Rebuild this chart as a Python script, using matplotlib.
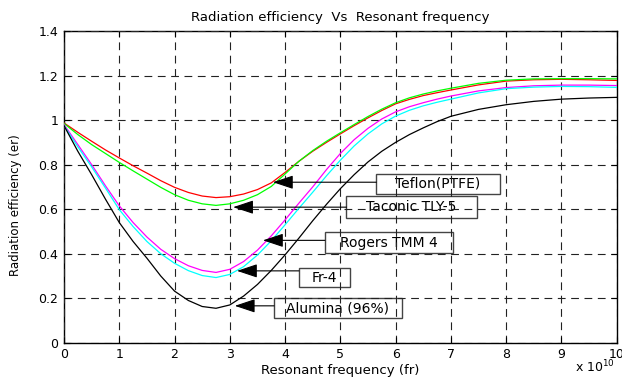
import matplotlib.pyplot as plt
from matplotlib.patches import Rectangle
from matplotlib.ticker import FormatStrFormatter

# resonant frequency, in units of 1e10 Hz
freq = [0, 0.25, 0.5, 0.75, 1, 1.25, 1.5, 1.75, 2, 2.25, 2.5, 2.75, 3, 3.25, 3.5,
        3.75, 4, 4.25, 4.5, 4.75, 5, 5.25, 5.5, 5.75, 6, 6.25, 6.5, 6.75, 7,
        7.5, 8, 8.5, 9, 9.5, 10]

# radiation efficiency per substrate
teflon = [0.987, 0.945, 0.905, 0.866, 0.830, 0.795, 0.762, 0.728, 0.698, 0.675, 0.659,
          0.652, 0.656, 0.668, 0.688, 0.718, 0.765, 0.815, 0.860, 0.900, 0.938, 0.975,
          1.010, 1.043, 1.073, 1.093, 1.110, 1.123, 1.135,
          1.158, 1.175, 1.181, 1.183, 1.181, 1.178]
taconic = [0.985, 0.935, 0.890, 0.850, 0.810, 0.772, 0.735, 0.698, 0.665, 0.640, 0.624,
           0.617, 0.624, 0.640, 0.665, 0.702, 0.758, 0.815, 0.863, 0.905, 0.943, 0.980,
           1.016, 1.049, 1.078, 1.100, 1.117, 1.131, 1.143,
           1.165, 1.179, 1.185, 1.186, 1.186, 1.185]
rogers = [0.980, 0.890, 0.800, 0.705, 0.615, 0.540, 0.475, 0.420, 0.378, 0.346, 0.325,
          0.316, 0.330, 0.365, 0.416, 0.480, 0.552, 0.627, 0.700, 0.778, 0.850, 0.912,
          0.963, 1.005, 1.037, 1.060, 1.078, 1.094, 1.108,
          1.131, 1.146, 1.154, 1.157, 1.157, 1.155]
fr4 = [0.975, 0.880, 0.790, 0.695, 0.598, 0.522, 0.455, 0.400, 0.357, 0.324, 0.302,
       0.293, 0.307, 0.342, 0.394, 0.458, 0.530, 0.604, 0.676, 0.750, 0.820, 0.884,
       0.938, 0.983, 1.018, 1.044, 1.064, 1.080, 1.094,
       1.122, 1.141, 1.148, 1.151, 1.150, 1.147]
alumina = [0.975, 0.860, 0.755, 0.645, 0.540, 0.455, 0.380, 0.300, 0.232, 0.190, 0.163,
           0.155, 0.170, 0.210, 0.262, 0.325, 0.395, 0.470, 0.548, 0.622, 0.692, 0.755,
           0.812, 0.860, 0.900, 0.935, 0.965, 0.993, 1.017,
           1.048, 1.069, 1.084, 1.094, 1.099, 1.102]

curves = [teflon, taconic, rogers, fr4, alumina]
colors = ['#ff0000', '#00ff00', '#ff00ff', '#00ffff', '#000000']

# annotation labels, arrow tips and boxes (x0, x1, y0, y1)
labels = ['Teflon(PTFE)', 'Taconic TLY-5', 'Rogers TMM 4', 'Fr-4', 'Alumina (96%)']
tips = [(3.78, 0.721), (3.06, 0.609), (3.60, 0.460), (3.13, 0.323), (3.09, 0.166)]
boxes = [(5.65, 7.88, 0.670, 0.760), (5.11, 7.47, 0.559, 0.658),
         (4.72, 7.03, 0.402, 0.496), (4.25, 5.17, 0.250, 0.335),
         (3.80, 6.11, 0.111, 0.200)]

fig = plt.figure(figsize=(6.22, 3.77), dpi=100)
ax = fig.add_axes([0.1029, 0.0907, 0.8886, 0.8271])

for y, c in zip(curves, colors):
    ax.plot(freq, y, color=c, lw=0.9, zorder=3)

ax.set_xlim(0, 10)
ax.set_ylim(0, 1.4)
ax.set_xticks(range(0, 11))
ax.set_yticks([0, 0.2, 0.4, 0.6, 0.8, 1.0, 1.2, 1.4])
ax.yaxis.set_major_formatter(FormatStrFormatter('%g'))
ax.tick_params(direction='in', length=4, width=0.8, labelsize=9,
               top=True, right=True, pad=4)
for s in ax.spines.values():
    s.set_linewidth(1.0)

ax.set_axisbelow(False)
ax.grid(True, color='#222222', lw=0.8, linestyle=(0, (7, 5)))

ax.set_title('Radiation efficiency  Vs  Resonant frequency', fontsize=9.5, pad=7)
ax.set_xlabel('Resonant frequency (fr)', fontsize=9.5, labelpad=2)
ax.set_ylabel('Radiation efficiency (er)', fontsize=8.5)
ax.yaxis.set_label_coords(-0.076, 0.44)
ax.text(0.9245, -0.095, r'x 10$^{10}$', transform=ax.transAxes, fontsize=9,
        ha='left', va='baseline')

for lab, (tx, ty), (x0, x1, y0, y1) in zip(labels, tips, boxes):
    ax.add_patch(Rectangle((x0, y0), x1 - x0, y1 - y0, fill=False,
                           edgecolor='#444444', lw=1.0, zorder=2))
    ax.text((x0 + x1) / 2, (y0 + y1) / 2, lab, fontsize=10, ha='center',
            va='center', zorder=2)
    ax.annotate('', xy=(tx, ty), xytext=(x0, ty),
                arrowprops=dict(arrowstyle='-|>,head_length=0.9,head_width=0.3',
                                color='k', lw=0.8, mutation_scale=14,
                                shrinkA=0, shrinkB=0), zorder=4)

fig.savefig('out.png', dpi=100)
